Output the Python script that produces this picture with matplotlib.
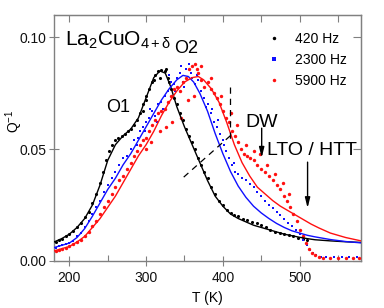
import matplotlib
matplotlib.use("Agg")
import matplotlib.pyplot as plt
from matplotlib.lines import Line2D

#--------------------------------------------------------
# data

# 420 Hz (black)
T_420 = [182, 186, 190, 195, 200, 205, 210, 215, 220, 225, 230, 235, 240, 244, 248, 252,
         256, 260, 264, 268, 272, 276, 280, 284, 288, 292, 296, 300, 304, 308, 312, 316,
         320, 324, 328, 332, 336, 340, 344, 348, 352, 356, 360, 364, 368, 372, 376, 380,
         385, 390, 395, 400, 405, 410, 415, 420, 426, 432, 438, 444, 450, 456, 462, 468,
         474, 480, 486, 492, 498, 504, 510,
         296, 300, 310, 318, 326, 330]
Q_420 = [0.0085, 0.0095, 0.010, 0.011, 0.012, 0.0135, 0.015, 0.017, 0.0195, 0.022, 0.026, 0.030, 0.035, 0.040, 0.045, 0.049,
         0.052, 0.054, 0.055, 0.056, 0.057, 0.058, 0.059, 0.061, 0.063, 0.066, 0.070, 0.074, 0.077, 0.080, 0.083, 0.085,
         0.0855, 0.085, 0.082, 0.077, 0.073, 0.070, 0.066, 0.063, 0.059, 0.056, 0.053, 0.050, 0.046, 0.043, 0.040, 0.037,
         0.033, 0.030, 0.027, 0.025, 0.023, 0.0215, 0.0205, 0.020, 0.019, 0.0185, 0.0175, 0.017, 0.016, 0.015, 0.014, 0.013,
         0.0125, 0.012, 0.0115, 0.011, 0.0105, 0.010, 0.0095,
         0.067, 0.072, 0.081, 0.082, 0.086, 0.080]

# 2300 Hz (blue)
T_2300 = [182, 186, 190, 195, 200, 205, 210, 215, 220, 225, 230, 235, 240, 245, 250, 255,
          260, 265, 270, 275, 280, 284, 288, 292, 296, 300, 304, 308, 312, 316, 320, 324,
          328, 332, 336, 340, 344, 348, 352, 356, 360, 364, 368, 372, 376, 380, 384, 388,
          392, 396, 400, 404, 408, 412, 416, 420, 425, 430, 435, 440, 445, 450, 455, 460,
          465, 470, 475, 480, 485, 490, 495, 500, 505, 510, 514, 518, 522, 528, 535, 545,
          555, 565, 575,
          290, 298, 305, 314, 322, 330, 338, 346, 350, 358, 366, 378, 386, 394, 402, 415]
Q_2300 = [0.006, 0.0065, 0.007, 0.0075, 0.008, 0.009, 0.011, 0.0125, 0.015, 0.018, 0.021, 0.024, 0.027, 0.031, 0.034, 0.037,
          0.040, 0.043, 0.046, 0.047, 0.050, 0.054, 0.052, 0.058, 0.060, 0.062, 0.064, 0.067, 0.065, 0.070, 0.071, 0.074,
          0.076, 0.080, 0.079, 0.082, 0.084, 0.080, 0.086, 0.088, 0.082, 0.079, 0.081, 0.076, 0.073, 0.070, 0.066, 0.062,
          0.060, 0.057, 0.054, 0.049, 0.046, 0.043, 0.040, 0.039, 0.037, 0.036, 0.0345, 0.033, 0.031, 0.029, 0.027, 0.025,
          0.0235, 0.022, 0.0205, 0.019, 0.017, 0.0155, 0.0138, 0.012, 0.0095, 0.007, 0.005, 0.0035, 0.0025, 0.002, 0.0018, 0.0018,
          0.0018, 0.0018, 0.0018,
          0.055, 0.058, 0.068, 0.062, 0.068, 0.083, 0.076, 0.087, 0.078, 0.084, 0.083, 0.069, 0.068, 0.063, 0.052, 0.044]

# 5900 Hz (red)
T_5900 = [182, 186, 190, 195, 200, 205, 210, 215, 220, 225, 230, 235, 240, 245, 250, 255,
          260, 265, 270, 275, 280, 284, 288, 292, 296, 300, 304, 308, 312, 316, 320, 324,
          328, 332, 336, 340, 344, 348, 352, 356, 360, 364, 368, 372, 376, 380, 384, 388,
          392, 396, 400, 404, 408, 412, 416, 420, 424, 428, 432, 436, 440, 445, 450, 455,
          460, 465, 470, 475, 480, 484, 488, 492, 496, 500, 504, 508, 512, 516, 520, 525,
          530, 540, 550, 560, 570, 578,
          300, 306, 318, 326, 334, 345, 355, 362, 366, 372, 385, 398, 410, 418, 430, 440,
          448, 458, 468, 478, 486]
Q_5900 = [0.0045, 0.005, 0.0055, 0.006, 0.0065, 0.0075, 0.0085, 0.0095, 0.011, 0.013, 0.0155, 0.018, 0.021, 0.024, 0.027, 0.030,
          0.033, 0.036, 0.038, 0.041, 0.044, 0.047, 0.049, 0.052, 0.054, 0.055, 0.058, 0.061, 0.063, 0.066, 0.067, 0.068,
          0.071, 0.074, 0.077, 0.078, 0.076, 0.080, 0.082, 0.086, 0.087, 0.088, 0.084, 0.081, 0.078, 0.080, 0.077, 0.075,
          0.073, 0.070, 0.067, 0.064, 0.062, 0.058, 0.056, 0.053, 0.050, 0.048, 0.047, 0.046, 0.045, 0.043, 0.041, 0.040,
          0.038, 0.036, 0.034, 0.032, 0.029, 0.027, 0.024, 0.021, 0.018, 0.014, 0.011, 0.008, 0.0055, 0.0035, 0.0025, 0.0018,
          0.0015, 0.0015, 0.0015, 0.0015, 0.0015, 0.0015,
          0.050, 0.053, 0.058, 0.060, 0.062, 0.064, 0.072, 0.074, 0.086, 0.087, 0.082, 0.074, 0.066, 0.061, 0.052, 0.049,
          0.048, 0.043, 0.039, 0.035, 0.030]

# fit curves
T_fit_420 = [180, 190, 200, 210, 220, 230, 240, 250, 260, 270, 280, 290, 300, 310, 318, 325,
             332, 340, 350, 360, 370, 380, 390, 400, 410, 420, 430, 440, 450, 460, 470, 480,
             490, 500, 510, 520, 540, 560, 580]
Q_fit_420 = [0.0085, 0.010, 0.012, 0.015, 0.019, 0.025, 0.034, 0.045, 0.052, 0.056, 0.059, 0.064, 0.073, 0.082, 0.085, 0.084,
             0.078, 0.069, 0.060, 0.052, 0.044, 0.036, 0.029, 0.0245, 0.021, 0.019, 0.0175, 0.016, 0.015, 0.014, 0.013, 0.012,
             0.0113, 0.0106, 0.0100, 0.0095, 0.0090, 0.0086, 0.0083]

T_fit_2300 = [180, 190, 200, 210, 220, 230, 240, 250, 260, 270, 280, 290, 300, 310, 320, 330,
              340, 348, 355, 362, 370, 380, 390, 400, 410, 420, 430, 440, 450, 460, 470, 480,
              490, 500, 510, 520, 540, 560, 580]
Q_fit_2300 = [0.006, 0.007, 0.008, 0.0105, 0.0145, 0.020, 0.026, 0.032, 0.037, 0.043, 0.048, 0.054, 0.060, 0.066, 0.072, 0.077,
              0.081, 0.083, 0.0825, 0.080, 0.075, 0.067, 0.057, 0.048, 0.040, 0.0335, 0.0285, 0.0245, 0.0215, 0.019, 0.0168, 0.015,
              0.0135, 0.0125, 0.0115, 0.0108, 0.0096, 0.0087, 0.0081]

T_fit_5900 = [180, 190, 200, 210, 220, 230, 240, 250, 260, 270, 280, 290, 300, 310, 320, 330,
              340, 350, 360, 368, 375, 385, 395, 405, 415, 425, 435, 445, 455, 465, 475, 485,
              495, 505, 515, 525, 540, 560, 580]
Q_fit_5900 = [0.0045, 0.0055, 0.0065, 0.0085, 0.011, 0.015, 0.019, 0.024, 0.029, 0.035, 0.041, 0.047, 0.052, 0.058, 0.065, 0.071,
              0.076, 0.080, 0.082, 0.0825, 0.081, 0.077, 0.071, 0.062, 0.052, 0.044, 0.038, 0.033, 0.030, 0.027, 0.0245, 0.0225,
              0.0205, 0.0185, 0.0165, 0.0148, 0.0125, 0.0105, 0.0090]

# dashed construction lines
T_vdash = [409, 409]
Q_vdash = [0.078, 0.054]
T_ddash = [349, 413]
Q_ddash = [0.0375, 0.057]

legendLabels = ["420 Hz", "2300 Hz", "5900 Hz"]

#--------------------------------------------------------

plt.rcParams['font.family'] = ['Liberation Sans', 'DejaVu Sans']
plt.rcParams['mathtext.fontset'] = 'custom'
plt.rcParams['mathtext.rm'] = 'Liberation Sans'
plt.rcParams['mathtext.it'] = 'Liberation Sans:italic'

spineColor = '#808080'
cBlack = 'black'
cBlue = '#1010ff'
cRed = '#ff1010'

fig = plt.figure(figsize=(3.84, 3.08), dpi=100)
ax = fig.add_axes([54/384, 47/308, 307/384, 246/308])

# data points
ax.scatter(T_420, Q_420, s=5, marker='o', color=cBlack, linewidths=0, zorder=3)
ax.scatter(T_2300, Q_2300, s=4, marker='s', color=cBlue, linewidths=0, zorder=3)
ax.scatter(T_5900, Q_5900, s=6, marker='o', color=cRed, linewidths=0, zorder=3)

# fits
ax.plot(T_fit_420, Q_fit_420, color=cBlack, lw=1.0, zorder=4)
ax.plot(T_fit_2300, Q_fit_2300, color=cBlue, lw=1.0, zorder=4)
ax.plot(T_fit_5900, Q_fit_5900, color=cRed, lw=1.0, zorder=4)

ax.plot(T_vdash, Q_vdash, color='black', lw=0.9, ls=(0, (5, 4)), zorder=5)
ax.plot(T_ddash, Q_ddash, color='black', lw=0.9, ls=(0, (5, 4)), zorder=5)

# labels
ax.text(194, 0.0964, r"La$_2$CuO$_{\mathrm{4+δ}}$", fontsize=15, ha='left', va='baseline')
ax.text(352, 0.0929, "O2", fontsize=13, ha='center', va='baseline')
ax.text(263, 0.0665, "O1", fontsize=13, ha='center', va='baseline')
ax.text(451, 0.0600, "DW", fontsize=14, ha='center', va='baseline')
ax.text(457, 0.0473, "LTO / HTT", fontsize=14, ha='left', va='baseline')

arrowProps = dict(arrowstyle='-|>,head_length=0.6,head_width=0.15', color='black', lw=1.0, shrinkA=0, shrinkB=0)
ax.annotate("", xy=(450.6, 0.0462), xytext=(450.6, 0.0594), arrowprops=arrowProps)
ax.annotate("", xy=(510.4, 0.0237), xytext=(510.4, 0.0442), arrowprops=arrowProps)

# legend
handles = [Line2D([], [], ls='none', marker='o', markersize=2.5, color=cBlack, markeredgewidth=0),
           Line2D([], [], ls='none', marker='s', markersize=2.5, color=cBlue, markeredgewidth=0),
           Line2D([], [], ls='none', marker='o', markersize=2.5, color=cRed, markeredgewidth=0)]
ax.legend(handles, legendLabels, loc='upper right', bbox_to_anchor=(0.955, 0.93), frameon=False,
          fontsize=10, handlelength=1.0, handletextpad=1.0, labelspacing=0.5, borderpad=0, borderaxespad=0)

# axes
ax.set_xlim(180, 580)
ax.set_ylim(0.0, 0.11)
ax.set_xticks([200, 300, 400, 500])
ax.set_xticks([250, 350, 450, 550], minor=True)
ax.set_yticks([0.0, 0.05, 0.10])
ax.set_yticklabels(["0.00", "0.05", "0.10"])
ax.tick_params(which='major', direction='inout', length=7, width=0.8, color=spineColor, labelsize=10, labelcolor='#111111')
ax.tick_params(axis='x', which='major', pad=4)
ax.tick_params(axis='y', which='major', pad=2)
ax.tick_params(which='minor', direction='in', length=4, width=0.8, color=spineColor)
for s in ax.spines.values():
    s.set_color(spineColor)
    s.set_linewidth(1.0)

top = ax.secondary_xaxis('top')
top.set_xticks([200, 300, 400, 500])
top.set_xticks([250, 350, 450, 550], minor=True)
top.tick_params(which='both', direction='in', length=5, width=0.8, color=spineColor, labeltop=False)
top.spines['top'].set_color(spineColor)

right = ax.secondary_yaxis('right')
right.set_yticks([0.0, 0.05, 0.10])
right.tick_params(which='both', direction='in', length=6, width=0.8, color=spineColor, labelright=False)
right.spines['right'].set_color(spineColor)

ax.set_xlabel("T (K)", fontsize=10)
ax.set_ylabel(r"Q$^{-1}$", fontsize=10)
ax.yaxis.set_label_coords(-0.095, 0.57)
ax.xaxis.set_label_coords(0.5, -0.12)

fig.savefig("out.png", dpi=100)
